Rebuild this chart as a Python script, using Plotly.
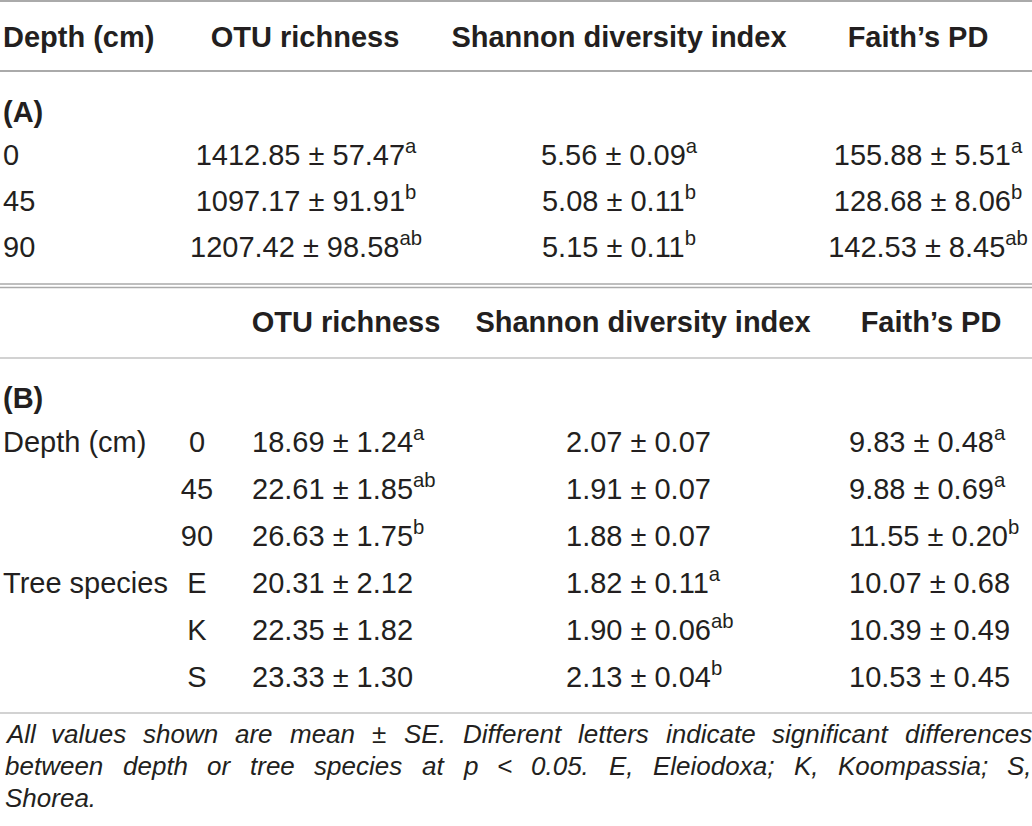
import plotly.graph_objects as go

# ---- data ----
depth_a = ["0", "45", "90"]
otu_mean_a = [1412.85, 1097.17, 1207.42]
otu_se_a = [57.47, 91.91, 98.58]
otu_sig_a = ["a", "b", "ab"]
shannon_mean_a = [5.56, 5.08, 5.15]
shannon_se_a = [0.09, 0.11, 0.11]
shannon_sig_a = ["a", "b", "b"]
faith_mean_a = [155.88, 128.68, 142.53]
faith_se_a = [5.51, 8.06, 8.45]
faith_sig_a = ["a", "b", "ab"]

group_b = ["Depth (cm)", "", "", "Tree species", "", ""]
level_b = ["0", "45", "90", "E", "K", "S"]
otu_mean_b = [18.69, 22.61, 26.63, 20.31, 22.35, 23.33]
otu_se_b = [1.24, 1.85, 1.75, 2.12, 1.82, 1.30]
otu_sig_b = ["a", "ab", "b", "", "", ""]
shannon_mean_b = [2.07, 1.91, 1.88, 1.82, 1.90, 2.13]
shannon_se_b = [0.07, 0.07, 0.07, 0.11, 0.06, 0.04]
shannon_sig_b = ["", "", "", "a", "ab", "b"]
faith_mean_b = [9.83, 9.88, 11.55, 10.07, 10.39, 10.53]
faith_se_b = [0.48, 0.69, 0.20, 0.68, 0.49, 0.45]
faith_sig_b = ["a", "a", "b", "", "", ""]

header_a = ["Depth (cm)", "OTU richness", "Shannon diversity index", "Faith’s PD"]
header_b = ["OTU richness", "Shannon diversity index", "Faith’s PD"]
footnote = [
    "All values shown are mean ± SE. Different letters indicate significant differences",
    "between depth or tree species at p < 0.05. E, Eleiodoxa; K, Koompassia; S,",
    "Shorea.",
]

FONT = "Liberation Sans, Arial, sans-serif"
INK = "#231f20"
W, H = 1032, 826
FS = 29      # table text size
FN = 26      # footnote size

# Arial/Liberation advance widths (1/1000 em), used to justify the footnote
ADV = {" ": 278, ",": 278, ".": 278, ";": 278, "<": 584, "±": 584}
ADV.update({c: 556 for c in "0123456789abdeghnopqu"})
ADV.update({c: 500 for c in "cksvxyz"})
ADV.update({"f": 278, "t": 278, "i": 222, "j": 222, "l": 222, "m": 833, "r": 333, "w": 722})
ADV.update({"A": 667, "D": 722, "E": 667, "K": 667, "S": 667})


def text_w(s, size):
    return sum(ADV.get(c, 556) for c in s) * size / 1000


def cells(mean, se, sig):
    out = []
    for m, s, g in zip(mean, se, sig):
        t = f"{m:.2f} ± {s:.2f}"
        if g:
            t += f"<sup>{g}</sup>"
        out.append(t)
    return out


fig = go.Figure()


def add_col(x, y, text, pos, bold=False, size=FS):
    fig.add_trace(go.Scatter(
        x=[x] * len(y), y=y, text=text, mode="text",
        textposition=pos, hoverinfo="skip", showlegend=False,
        textfont=dict(family=FONT, size=size, color=INK,
                      weight="bold" if bold else "normal"),
    ))


# section A
add_col(3, [40], [header_a[0]], "middle right", bold=True)
add_col(305, [40], [header_a[1]], "middle center", bold=True)
add_col(619, [40], [header_a[2]], "middle center", bold=True)
add_col(918, [40], [header_a[3]], "middle center", bold=True)
add_col(3, [115], ["(A)"], "middle right", bold=True)

rows_a = [158 + 46 * i for i in range(len(depth_a))]
add_col(3, rows_a, depth_a, "middle right")
add_col(306, rows_a, cells(otu_mean_a, otu_se_a, otu_sig_a), "middle center")
add_col(619, rows_a, cells(shannon_mean_a, shannon_se_a, shannon_sig_a), "middle center")
add_col(928, rows_a, cells(faith_mean_a, faith_se_a, faith_sig_a), "middle center")

# section B
add_col(346, [325], [header_b[0]], "middle center", bold=True)
add_col(643, [325], [header_b[1]], "middle center", bold=True)
add_col(931, [325], [header_b[2]], "middle center", bold=True)
add_col(3, [401], ["(B)"], "middle right", bold=True)

rows_b = [445 + 47 * i for i in range(len(level_b))]
add_col(3, rows_b, group_b, "middle right")
add_col(197, rows_b, level_b, "middle center")
add_col(252, rows_b, cells(otu_mean_b, otu_se_b, otu_sig_b), "middle right")
add_col(566, rows_b, cells(shannon_mean_b, shannon_se_b, shannon_sig_b), "middle right")
add_col(849, rows_b, cells(faith_mean_b, faith_se_b, faith_sig_b), "middle right")

# footnote, justified between x0 and x1 except the last line
x0, x1 = 3, 1030
for i, line in enumerate(footnote):
    y = 734 + 32 * i
    words = line.split(" ")
    if i == len(footnote) - 1 or len(words) == 1:
        gap = text_w(" ", FN)
    else:
        gap = (x1 - x0 - sum(text_w(w, FN) for w in words)) / (len(words) - 1)
    x = x0
    for w in words:
        fig.add_annotation(x=x, y=y, text=f"<i>{w}</i>", showarrow=False,
                           xanchor="left", yanchor="middle",
                           font=dict(family=FONT, size=FN, color=INK))
        x += text_w(w, FN) + gap

# rules
rules = [(1, "#aaaaaa", 2), (71, "#aaaaaa", 2), (284, "#aaaaaa", 1.5),
         (287.5, "#aaaaaa", 1.5), (358, "#d2d2d2", 2), (713, "#d2d2d2", 2)]
for y, c, w in rules:
    fig.add_shape(type="line", x0=0, x1=W, y0=y, y1=y, line=dict(color=c, width=w))

fig.update_layout(
    width=W, height=H, margin=dict(l=0, r=0, t=0, b=0),
    plot_bgcolor="white", paper_bgcolor="white",
    xaxis=dict(range=[0, W], visible=False, fixedrange=True),
    yaxis=dict(range=[H, 0], visible=False, fixedrange=True),
)

fig.write_html("out.html", config={"displayModeBar": False},
               post_script="document.body.style.margin='0';document.body.style.overflow='hidden';")
